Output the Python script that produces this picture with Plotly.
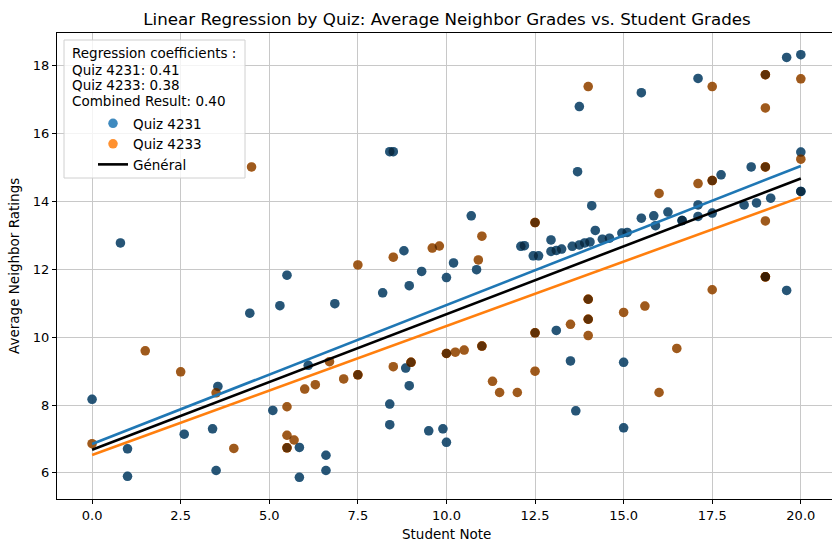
import plotly.graph_objects as go

# ---- data ----
quiz_4231_x = [0.8, 4.45, 3.55, 0.0, 1.0, 2.6, 3.4, 1.0, 3.5, 5.3, 5.5, 6.85, 8.2, 8.8, 8.95, 9.3,
               10.0, 8.4, 8.5, 10.7, 10.2, 10.85, 12.1, 12.2, 12.95, 12.45, 12.6, 12.95, 13.1, 13.25,
               13.55, 13.75, 13.9, 14.05, 14.1, 14.2, 14.4, 14.6, 14.95, 15.1, 13.1, 13.5, 15.0,
               13.65, 15.0, 9.9, 10.0, 6.1, 5.1, 5.85, 6.6, 6.6, 5.85, 8.4, 8.4, 9.5, 8.85, 8.95,
               15.5, 17.1, 19.6, 20.0, 20.0, 18.6, 17.75, 20.0, 20.0, 15.5, 15.85, 15.9, 16.25,
               16.65, 16.65, 17.1, 17.1, 17.5, 18.4, 18.75, 19.15, 19.6, 13.75, 13.7]
quiz_4231_y = [12.78, 10.71, 8.55, 8.17, 6.71, 7.14, 7.3, 5.9, 6.07, 10.93, 11.83, 10.99, 11.31,
               12.55, 11.52, 11.94, 11.76, 15.47, 15.47, 13.58, 12.19, 11.99, 12.68, 12.7, 12.87,
               12.4, 12.4, 12.53, 12.56, 12.6, 12.68, 12.72, 12.78, 12.81, 13.88, 13.15, 12.89,
               12.92, 13.07, 13.09, 10.2, 9.3, 9.26, 7.83, 7.33, 7.3, 6.9, 9.17, 7.84, 6.75, 6.52,
               6.07, 5.87, 8.03, 7.42, 7.24, 9.09, 8.57, 17.21, 17.63, 18.25, 18.33, 15.46, 15.02,
               14.79, 14.3, 14.3, 13.51, 13.58, 13.29, 13.69, 13.44, 13.44, 13.9, 13.56, 13.66,
               13.9, 13.96, 14.1, 11.38, 16.8, 14.88]

quiz_4233_x = [4.5, 1.5, 2.5, 3.5, 0.0, 4.0, 7.5, 8.5, 9.6, 9.8, 11.0, 10.9, 12.5, 12.5, 14.0,
               14.0, 14.0, 14.0, 13.5, 15.0, 12.5, 12.5, 14.0, 10.0, 10.0, 10.25, 10.5, 11.0, 11.0,
               12.5, 11.3, 11.5, 12.0, 6.7, 6.0, 6.3, 7.1, 7.5, 7.5, 8.5, 9.0, 9.0, 5.5, 5.5, 5.7,
               5.5, 5.5, 17.5, 19.0, 19.0, 20.0, 19.0, 20.0, 19.0, 19.0, 17.5, 17.5, 17.1, 16.0,
               14.0, 19.0, 19.0, 19.0, 19.0, 17.5, 15.6, 16.5, 16.0]
quiz_4233_y = [15.02, 9.6, 8.98, 8.36, 6.86, 6.72, 12.13, 12.36, 12.63, 12.69, 12.98, 12.28, 13.38,
               13.38, 11.12, 11.12, 10.53, 10.53, 10.38, 10.73, 10.13, 10.13, 10.05, 9.52, 9.52,
               9.56, 9.62, 9.74, 9.74, 9.0, 8.7, 8.37, 8.37, 9.28, 8.47, 8.6, 8.77, 8.89, 8.89,
               9.13, 9.26, 9.26, 7.95, 7.11, 6.97, 6.74, 6.74, 17.39, 17.74, 17.74, 17.62, 16.76,
               15.25, 15.02, 15.02, 14.62, 14.62, 14.53, 14.24, 17.39, 13.43, 11.78, 11.78, 11.78,
               11.4, 10.92, 9.67, 8.37]

# regression lines: intercept, slope
line_names = ["Quiz 4231", "Quiz 4233", "Général"]
intercepts = [6.85, 6.53, 6.68]
slopes = [0.41, 0.38, 0.40]
line_x = [0, 20]

x_tickvals = [0, 2.5, 5, 7.5, 10, 12.5, 15, 17.5, 20]
x_ticktext = ["0.0", "2.5", "5.0", "7.5", "10.0", "12.5", "15.0", "17.5", "20.0"]
y_tickvals = [6, 8, 10, 12, 14, 16, 18]

legend_lines = ["Regression coefficients :", "Quiz 4231: 0.41", "Quiz 4233: 0.38",
                "Combined Result: 0.40"]

FONT = "DejaVu Sans"
W, H = 832, 541
L, T, B = 57, 33, 42
PW, PH = W - L, H - T - B


def px(x):  # page px -> paper x
    return (x - L) / PW


def py(y):  # page px -> paper y
    return (H - B - y) / PH


fig = go.Figure()
fig.add_trace(go.Scatter(x=quiz_4231_x, y=quiz_4231_y, mode="markers", name="Quiz 4231",
                         marker=dict(color="#1f77b4", size=9.5, opacity=0.86, line=dict(width=0))))
fig.add_trace(go.Scatter(x=quiz_4233_x, y=quiz_4233_y, mode="markers", name="Quiz 4233",
                         marker=dict(color="#ff7f0e", size=9.5, opacity=0.86, line=dict(width=0))))
fig.add_trace(go.Scatter(x=quiz_4231_x + quiz_4233_x, y=quiz_4231_y + quiz_4233_y, mode="markers",
                         showlegend=False, hoverinfo="skip",
                         marker=dict(color="black", size=9.5, opacity=0.38, line=dict(width=0))))

colors = ["#1f77b4", "#ff7f0e", "black"]
for name, b0, b1, c in zip(line_names, intercepts, slopes, colors):
    fig.add_trace(go.Scatter(x=line_x, y=[b0 + b1 * v for v in line_x], mode="lines",
                             name=name, showlegend=(name == "Général"),
                             line=dict(color=c, width=2.6)))

annotations = [
    dict(text="Student Note", xref="paper", yref="paper", x=px(447), y=py(534),
         xanchor="center", yanchor="middle", showarrow=False, font=dict(size=13.5)),
    dict(text="Average Neighbor Ratings", xref="paper", yref="paper", x=px(14), y=0.5,
         xanchor="center", yanchor="middle", textangle=-90, showarrow=False,
         font=dict(size=13.5)),
]
for txt, yy in zip(legend_lines, [53.3, 69.8, 85.3, 100.7]):
    annotations.append(dict(text=txt, xref="paper", yref="paper", x=px(70), y=py(yy),
                            xanchor="left", yanchor="middle", showarrow=False,
                            font=dict(size=13.5)))

fig.update_layout(
    width=W, height=H,
    margin=dict(l=L, r=0, t=T, b=B, autoexpand=False),
    paper_bgcolor="white", plot_bgcolor="white",
    font=dict(family=FONT, size=13, color="black"),
    title=dict(text="Linear Regression by Quiz: Average Neighbor Grades vs. Student Grades",
               x=447 / W, xanchor="center", y=1 - 19 / H, yanchor="middle",
               font=dict(size=16.7)),
    legend=dict(x=px(93), y=py(108), xanchor="left", yanchor="top",
                bgcolor="rgba(0,0,0,0)", borderwidth=0, font=dict(size=13.5),
                tracegroupgap=0),
    shapes=[dict(type="rect", xref="paper", yref="paper", x0=px(64), x1=px(245),
                 y0=py(178), y1=py(40), line=dict(color="#d0d0d0", width=1),
                 fillcolor="rgba(255,255,255,0.8)", layer="above")],
    annotations=annotations,
)
fig.update_xaxes(range=[-0.99, 20.88], tickvals=x_tickvals, ticktext=x_ticktext,
                 showgrid=True, gridcolor="#c8c8c8", gridwidth=1, zeroline=False,
                 showline=True, linecolor="black", linewidth=1, mirror=True,
                 ticks="outside", ticklen=4, tickcolor="black", automargin=False)
fig.update_yaxes(range=[5.23, 18.97], tickvals=y_tickvals,
                 showgrid=True, gridcolor="#c8c8c8", gridwidth=1, zeroline=False,
                 showline=True, linecolor="black", linewidth=1, mirror=False,
                 ticks="outside", ticklen=4, tickcolor="black", automargin=False)

fig.write_html("out.html", config={"displayModeBar": False},
               post_script="document.body.style.margin='0';document.body.style.overflow='hidden';")
